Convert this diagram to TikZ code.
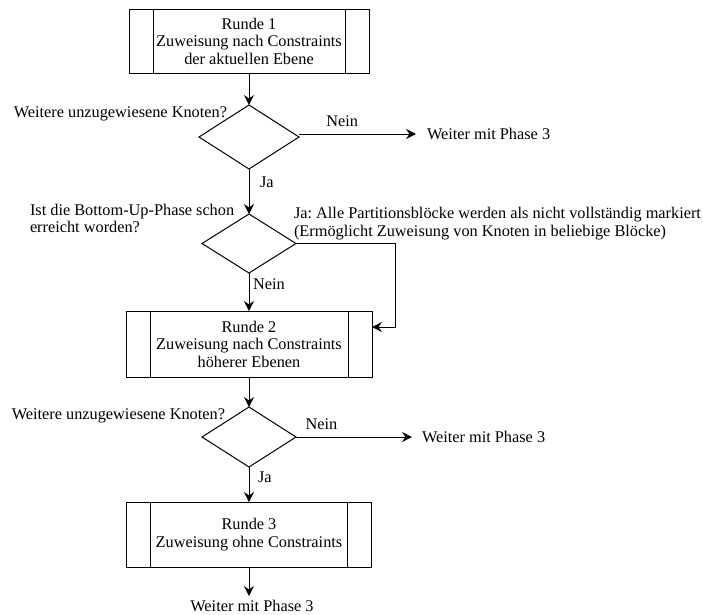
\documentclass[tikz,border=0pt]{standalone}
\usepackage{fontspec}
\setmainfont{Liberation Serif}
\usetikzlibrary{shapes.geometric,arrows.meta}
\frenchspacing
\begin{document}
\begin{tikzpicture}[x=1pt,y=-1pt,
  font=\fontsize{16.3}{17.5}\selectfont,
  line width=1pt,
  flow/.style={-{Stealth[length=10pt,width=10pt,inset=3.5pt]}},
  subproc/.style={draw, rectangle, inner sep=0pt, outer sep=0pt, align=center,
    minimum height=#1,
    path picture={
      \draw ([xshift=24pt]path picture bounding box.north west) --
            ([xshift=24pt]path picture bounding box.south west);
      \draw ([xshift=-24pt]path picture bounding box.north east) --
            ([xshift=-24pt]path picture bounding box.south east);
    }},
  decision/.style={draw, diamond, inner sep=0pt, outer sep=0pt},
  lbl/.style={inner sep=0pt, outer sep=0pt}
]
\useasboundingbox[fill=white] (0,0) rectangle (703,614);

% process boxes
\node[subproc=64pt, minimum width=240pt] (b1) at (249,41)
  {Runde 1\\Zuweisung nach Constraints\\der aktuellen Ebene};
\node[subproc=66pt, minimum width=246pt] (b2) at (249,344)
  {Runde 2\\Zuweisung nach Constraints\\höherer Ebenen};
\node[subproc=65pt, minimum width=245pt] (b3) at (249,534.5)
  {Runde 3\\Zuweisung ohne Constraints};

% decisions
\node[decision, minimum width=100pt, minimum height=64pt] (d1) at (249,137) {};
\node[decision, minimum width=94pt, minimum height=59pt] (d2) at (249,243.5) {};
\node[decision, minimum width=94pt, minimum height=60pt] (d3) at (249,437) {};

% decision questions
\node[lbl, anchor=east] (q1) at (227,114) {Weitere unzugewiesene Knoten?};
\node[lbl, anchor=west, align=left] (q2) at (30,218.5)
  {Ist die Bottom-Up-Phase schon\\erreicht worden?};
\node[lbl, anchor=east] (q3) at (225,416) {Weitere unzugewiesene Knoten?};

% exits
\node[lbl, anchor=west, inner xsep=11pt] (w1) at (416,134) {Weiter mit Phase 3};
\node[lbl, anchor=west, inner xsep=10pt] (w2) at (412,437) {Weiter mit Phase 3};
\node[lbl, anchor=north, inner ysep=4pt] (w3) at (252,596) {Weiter mit Phase 3};

% bypass target
\coordinate (byp) at (395,327);

% connectors
\draw[flow] (b1.south) -- (d1.north);
\draw[flow] (d1.east |- w1.west) -- (w1.west)
  node[lbl, pos=0.37, above=7pt] (n1) {Nein};
\draw[flow] (d1.south) -- (d2.north)
  node[lbl, pos=0.3, anchor=west, xshift=11pt] (j1) {Ja};
\draw[flow] (d2.east) -| (byp) -- (b2.east |- byp);
\node[lbl, anchor=west, align=left] (ja2) at (294,223.5)
  {Ja: Alle Partitionsblöcke werden als nicht vollständig markiert\\(Ermöglicht Zuweisung von Knoten in beliebige Blöcke)};
\draw[flow] (d2.south) -- (b2.north)
  node[lbl, pos=0.3, anchor=west, xshift=4pt] (n2) {Nein};
\draw[flow] (b2.south) -- (d3.north);
\draw[flow] (d3.east) -- (w2.west)
  node[lbl, pos=0.22, above=7pt] (n3) {Nein};
\draw[flow] (d3.south) -- (b3.north)
  node[lbl, pos=0.3, anchor=west, xshift=9pt] (j3) {Ja};
\draw[flow] (b3.south) -- (b3.south |- w3.north);
\end{tikzpicture}
\end{document}
